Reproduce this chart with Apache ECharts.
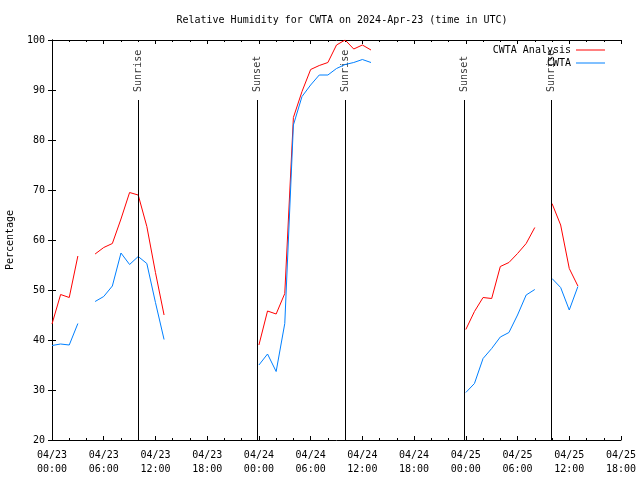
<!DOCTYPE html>
<html><head><meta charset="utf-8">
<script src="https://cdn.jsdelivr.net/npm/echarts@6/dist/echarts.min.js"></script>
<style>html,body{margin:0;padding:0;background:#fff}#c{width:640px;height:480px}</style>
</head><body><div id="c"></div>
<script>
// Hours since 2024-04-23 00:00 UTC (hourly data)
const hours = Array.from({length: 62}, (_, i) => i);
const analysis = [
  43.2, 49.1, 48.5, 56.8, null, 57.2, 58.5, 59.3, 64.2, 69.5, 69.0, 62.7, 53.5, 45.0,
  null, null, null, null, null, null, null, null, null, null,
  39.0, 45.8, 45.2, 49.3, 84.5, 89.7, 94.1, 94.9, 95.5, 99.0, 100, 98.2, 99.0, 98.0,
  null, null, null, null, null, null, null, null, null, null,
  42.1, 45.7, 48.5, 48.3, 54.7, 55.5, 57.3, 59.3, 62.5, null, 67.3, 63.0, 54.3, 50.8
];
const observed = [
  38.9, 39.2, 39.0, 43.3, null, 47.7, 48.7, 50.8, 57.4, 55.1, 56.7, 55.3, 47.5, 40.1,
  null, null, null, null, null, null, null, null, null, null,
  35.0, 37.2, 33.7, 43.3, 83.0, 88.7, 91.0, 93.0, 93.0, 94.3, 95.1, 95.5, 96.1, 95.5,
  null, null, null, null, null, null, null, null, null, null,
  29.5, 31.3, 36.3, 38.3, 40.6, 41.5, 45.0, 49.0, 50.1, null, 52.3, 50.5, 46.0, 50.7
];
const eventNames = ['Sunrise', 'Sunset', 'Sunrise', 'Sunset', 'Sunrise'];
const eventHours = [10.02, 23.82, 34.0, 47.85, 57.95];
const tickLabels = ['04/23\n00:00','04/23\n06:00','04/23\n12:00','04/23\n18:00',
  '04/24\n00:00','04/24\n06:00','04/24\n12:00','04/24\n18:00',
  '04/25\n00:00','04/25\n06:00','04/25\n12:00','04/25\n18:00'];

const FONT = 'DejaVu Sans Mono';
const pairs = arr => hours.map((h, i) => [h, arr[i] === null ? '-' : arr[i]]);
const lineTop = 88, labelAt = 89.6;

const axisCommon = {
  axisLine: {lineStyle: {color: '#000', width: 1}},
  axisTick: {inside: true, length: 4, lineStyle: {color: '#000'}},
  splitLine: {show: false}
};

const chart = echarts.init(document.getElementById('c'), null, {renderer: 'canvas'});
chart.setOption({
  animation: false,
  backgroundColor: '#fff',
  textStyle: {fontFamily: FONT, color: '#000'},
  title: {
    text: 'Relative Humidity for CWTA on 2024-Apr-23 (time in UTC)',
    left: 337, top: 10, textAlign: 'center',
    textStyle: {fontFamily: FONT, fontSize: 10, fontWeight: 'normal', color: '#000'}
  },
  legend: {
    right: 30, top: 40, orient: 'vertical', align: 'right',
    icon: 'rect', itemWidth: 29, itemHeight: 1, itemGap: 3,
    textStyle: {fontFamily: FONT, fontSize: 10, color: '#000'},
    data: ['CWTA Analysis', 'CWTA']
  },
  grid: {left: 52, right: 19, top: 40, bottom: 40, outerBoundsMode: 'none', containLabel: false},
  xAxis: [
    Object.assign({}, axisCommon, {
      type: 'value', min: 0, max: 66, interval: 6, position: 'bottom',
      minorTick: {show: true, splitNumber: 3, length: 2, lineStyle: {color: '#000'}},
      axisLabel: {fontFamily: FONT, fontSize: 10, color: '#000', margin: 8, lineHeight: 14,
        formatter: v => tickLabels[Math.round(v / 6)] || ''}
    }),
    Object.assign({}, axisCommon, {
      type: 'value', min: 0, max: 66, interval: 6, position: 'top',
      minorTick: {show: true, splitNumber: 3, length: 2, lineStyle: {color: '#000'}},
      axisLabel: {show: false}
    })
  ],
  yAxis: [
    Object.assign({}, axisCommon, {
      type: 'value', min: 20, max: 100, interval: 10, position: 'left',
      name: 'Percentage', nameLocation: 'middle', nameGap: 37,
      nameTextStyle: {fontFamily: FONT, fontSize: 10, color: '#000'},
      axisLabel: {fontFamily: FONT, fontSize: 10, color: '#000', margin: 7}
    }),
    Object.assign({}, axisCommon, {
      type: 'value', min: 20, max: 100, interval: 10, position: 'right',
      axisLabel: {show: false}
    })
  ],
  series: [
    {
      name: 'events', type: 'line', data: [], silent: true,
      markLine: {
        silent: true, symbol: 'none', label: {show: false},
        lineStyle: {color: '#000', width: 1, type: 'solid'},
        data: eventHours.map(h => [{coord: [h, 20]}, {coord: [h, lineTop]}])
      }
    },
    {
      name: 'eventLabels', type: 'scatter', silent: true, symbolSize: 0.1,
      itemStyle: {color: 'rgba(0,0,0,0)'},
      data: eventHours.map((h, i) => ({value: [h, labelAt], name: eventNames[i]})),
      label: {
        show: true, position: [0, 0], rotate: 90, align: 'left', verticalAlign: 'middle',
        formatter: p => p.name, fontFamily: FONT, fontSize: 10, color: '#000'
      }
    },
    {
      name: 'CWTA Analysis', type: 'line', data: pairs(analysis),
      showSymbol: false, symbol: 'none', connectNulls: false,
      lineStyle: {color: '#ff0000', width: 1}, itemStyle: {color: '#ff0000'}
    },
    {
      name: 'CWTA', type: 'line', data: pairs(observed),
      showSymbol: false, symbol: 'none', connectNulls: false,
      lineStyle: {color: '#0080ff', width: 1}, itemStyle: {color: '#0080ff'}
    }
  ]
});
</script>
</body></html>
